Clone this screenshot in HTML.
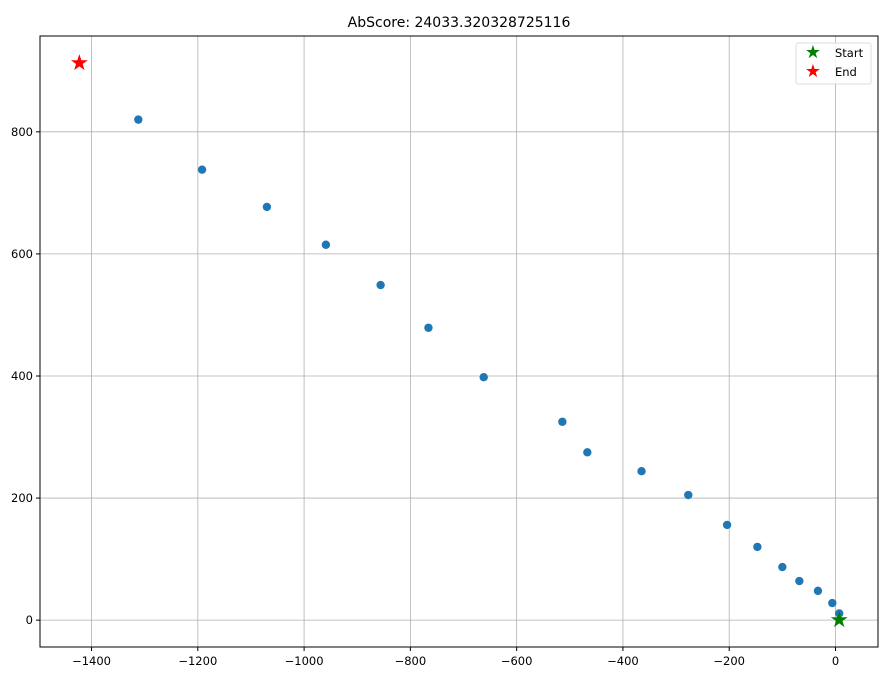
<!DOCTYPE html>
<html><head><meta charset="utf-8"><style>
body{margin:0;background:#fff;font-family:"Liberation Sans","DejaVu Sans",sans-serif}
</style></head><body>
<svg id="chart" width="891" height="676" xmlns="http://www.w3.org/2000/svg" font-family="DejaVu Sans, Liberation Sans, sans-serif">
<text x="459" y="27" text-anchor="middle" font-size="14">AbScore: 24033.320328725116</text>
<g id="grid"></g>
<g id="xt"></g>
<g id="yt"></g>
<g id="pts"></g>
<rect x="40" y="36" width="838" height="611" fill="none" stroke="#000" stroke-width="1"/>
<g>
<rect x="796" y="43" width="75" height="41" rx="2" fill="#fff" fill-opacity="0.8" stroke="#ddd"/>
<text x="813" y="58" text-anchor="middle" font-size="18" fill="green">★</text>
<text x="835" y="57" font-size="11.5">Start</text>
<text x="813" y="77" text-anchor="middle" font-size="18" fill="red">★</text>
<text x="835" y="76" font-size="11.5">End</text>
</g>
</svg>
<script>
const xs=[-1312,-1192,-1070,-959,-856,-766,-662,-514,-467,-365,-277,-204,-147,-100,-68,-33,-6,7];
const ys=[820,738,677,615,549,479,398,325,275,244,205,156,120,87,64,48,28,11];
const startPt=[7,0];
const endPt=[-1423,913];
const xTicks=[-1400,-1200,-1000,-800,-600,-400,-200,0];
const yTicks=[0,200,400,600,800];
const X0=-1497,X1=80,Y0=-44,Y1=957;
const L=40,R=878,T=36,B=647;
const sx=v=>L+(v-X0)/(X1-X0)*(R-L);
const sy=v=>B-(v-Y0)/(Y1-Y0)*(B-T);
const NS="http://www.w3.org/2000/svg";
function mk(t,a,p){const e=document.createElementNS(NS,t);for(const k in a)e.setAttribute(k,a[k]);p.appendChild(e);return e;}
const g=document.getElementById('grid'),xt=document.getElementById('xt'),yt=document.getElementById('yt'),pts=document.getElementById('pts');
xTicks.forEach(v=>{const x=sx(v);
const l=mk('line',{x1:x,x2:x,y1:T,y2:B,stroke:'#b0b0b0','stroke-width':0.8},g);


mk('line',{x1:x,x2:x,y1:B,y2:B+4,stroke:'#000'},xt);
const t=mk('text',{x:x,y:B+18,'text-anchor':'middle','font-size':11.5},xt);
t.textContent=(v<0?'\u2212'+(-v):v);

});
yTicks.forEach(v=>{const y=sy(v);
const l=mk('line',{x1:L,x2:R,y1:y,y2:y,stroke:'#b0b0b0','stroke-width':0.8},g);


mk('line',{x1:L-4,x2:L,y1:y,y2:y,stroke:'#000'},yt);
const t=mk('text',{x:L-7,y:y+4,'text-anchor':'end','font-size':11.5},yt);
t.textContent=v;

});
xs.forEach((v,i)=>{const c=mk('circle',{cx:sx(v),cy:sy(ys[i]),r:4.2,fill:'#1f77b4'},pts);

});
function star(p,col,name){const t=mk('text',{x:sx(p[0]),y:sy(p[1])+7,'text-anchor':'middle','font-size':22,fill:col},pts);t.textContent='★';

}
star(startPt,'green','start-marker');
star(endPt,'red','end-marker');
</script>
</body></html>
